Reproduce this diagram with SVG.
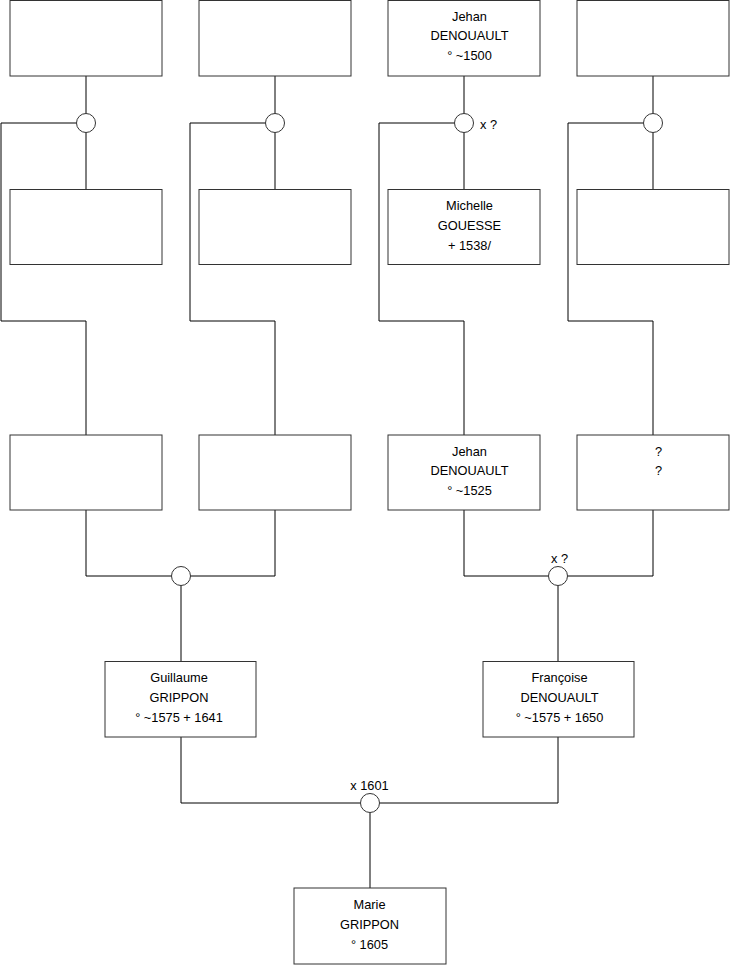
<svg xmlns="http://www.w3.org/2000/svg" width="740" height="975" viewBox="0 0 740 975">
<style>
.box{fill:#fff;stroke:#333;stroke-width:1}
.ln{fill:none;stroke:#000;stroke-width:1}
.ring{fill:#fff;stroke:#333;stroke-width:1}
text{font-family:"Liberation Sans",Arial,sans-serif;font-size:12.8px;fill:#000;text-anchor:middle}
.lbl{text-anchor:start}
</style>
<rect width="740" height="975" fill="#fff"/>
<g id="connectors">
<path class="ln" d="M86,76V113.5M86,132.5V189.5M76.5,123H1V321H86V435"/>
<path class="ln" d="M275,76V113.5M275,132.5V189.5M265.5,123H190V321H275V435"/>
<path class="ln" d="M464,76V113.5M464,132.5V189.5M454.5,123H379V321H464V435"/>
<path class="ln" d="M653,76V113.5M653,132.5V189.5M643.5,123H568V321H653V435"/>
<path class="ln" d="M86,510V576H171.5M190.5,576H275V510M181,585.5V661.5"/>
<path class="ln" d="M464,510V576H548.5M567.5,576H653V510M558,585.5V661.5"/>
<path class="ln" d="M181,737V803H360.5M379.5,803H558V737M370,812.5V888"/>
</g>
<g id="unions">
<circle class="ring" cx="86" cy="123" r="9.5"/>
<circle class="ring" cx="275" cy="123" r="9.5"/>
<circle class="ring" cx="464" cy="123" r="9.5"/>
<text class="lbl" x="480" y="129">x ?</text>
<circle class="ring" cx="653" cy="123" r="9.5"/>
<circle class="ring" cx="181" cy="576" r="9.5"/>
<circle class="ring" cx="558" cy="576" r="9.5"/>
<text x="559.5" y="563">x ?</text>
<circle class="ring" cx="370" cy="803" r="9.5"/>
<text x="369.5" y="790">x 1601</text>
</g>
<g id="n1"><rect class="box" x="10" y="0.5" width="152" height="75.5"/></g>
<g id="n2"><rect class="box" x="199" y="0.5" width="152" height="75.5"/></g>
<g id="n3"><rect class="box" x="388" y="0.5" width="152" height="75.5"/>
<text x="469.5" y="20.5">Jehan</text><text x="469.5" y="40">DENOUAULT</text><text x="469.5" y="60">° ~1500</text></g>
<g id="n4"><rect class="box" x="577" y="0.5" width="152" height="75.5"/></g>
<g id="n5"><rect class="box" x="10" y="189.5" width="152" height="75"/></g>
<g id="n6"><rect class="box" x="199" y="189.5" width="152" height="75"/></g>
<g id="n7"><rect class="box" x="388" y="189.5" width="152" height="75"/>
<text x="469.5" y="209.5">Michelle</text><text x="469.5" y="229.5">GOUESSE</text><text x="469.5" y="249.5">+ 1538/</text></g>
<g id="n8"><rect class="box" x="577" y="189.5" width="152" height="75"/></g>
<g id="n9"><rect class="box" x="10" y="435" width="152" height="75"/></g>
<g id="n10"><rect class="box" x="199" y="435" width="152" height="75"/></g>
<g id="n11"><rect class="box" x="388" y="435" width="152" height="75"/>
<text x="469.5" y="455.5">Jehan</text><text x="469.5" y="475">DENOUAULT</text><text x="469.5" y="495">° ~1525</text></g>
<g id="n12"><rect class="box" x="577" y="435" width="152" height="75"/>
<text x="658.5" y="455.5">?</text><text x="658.5" y="475">?</text></g>
<g id="n13"><rect class="box" x="105" y="661.5" width="151" height="75.5"/>
<text x="179" y="682">Guillaume</text><text x="179" y="702">GRIPPON</text><text x="179" y="722">° ~1575 + 1641</text></g>
<g id="n14"><rect class="box" x="483" y="661.5" width="151" height="75.5"/>
<text x="559.5" y="682">Françoise</text><text x="559.5" y="702">DENOUAULT</text><text x="559.5" y="722">° ~1575 + 1650</text></g>
<g id="n15"><rect class="box" x="294" y="888" width="152" height="76"/>
<text x="369.5" y="909">Marie</text><text x="369.5" y="929">GRIPPON</text><text x="369.5" y="949">° 1605</text></g>
</svg>
